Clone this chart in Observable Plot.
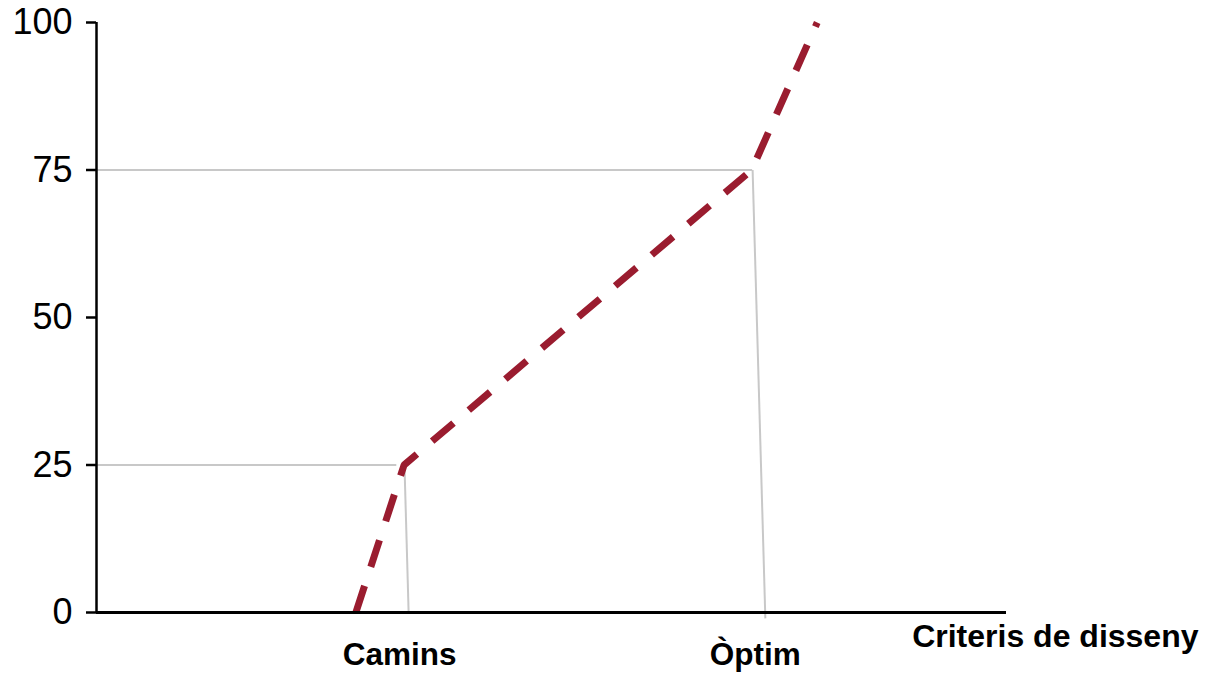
<!DOCTYPE html>
<html>
<head>
<meta charset="utf-8">
<script src="https://cdn.jsdelivr.net/npm/d3@7"></script>
<script src="https://cdn.jsdelivr.net/npm/@observablehq/plot@0.6"></script>
<style>
  html, body { margin: 0; padding: 0; background: #fff; }
  #chart svg { display: block; }
</style>
</head>
<body>
<div id="chart"></div>
<script>
// Dashed curve (x in arbitrary design-criteria units 0–100, y 0–100)
const curveX = [28.5, 33.8, 72.0, 79.2];
const curveY = [0, 25, 75, 100];

// Horizontal gray guides
const guideLevels = [25, 75];
const guideEndX = [33.0, 72.1];

// Vertical (slightly slanted) gray guides
const dropTopX = [33.85, 72.1];
const dropTopY = [24.6, 75];
const dropBottomX = [34.3, 73.5];
const dropBottomY = [0, -1];

// Axis ticks
const yTicks = [0, 25, 50, 75, 100];
const xTickPos = [33.3, 72.4];
const xTickLabels = ["Camins", "Òptim"];
const xAxisTitle = ["Criteris de disseny"];

const curve = curveX.map((x, i) => ({x, y: curveY[i]}));
const guides = guideLevels.map((y, i) => ({y, x2: guideEndX[i]}));
const drops = dropTopX.map((x, i) => ({x1: x, y1: dropTopY[i], x2: dropBottomX[i], y2: dropBottomY[i]}));
const xLabelMap = new Map(xTickPos.map((p, i) => [p, xTickLabels[i]]));

const chart = Plot.plot({
  width: 1205,
  height: 674,
  marginLeft: 96,
  marginRight: 199,
  marginTop: 22,
  marginBottom: 62,
  style: {fontFamily: "'Liberation Sans', Arial, Helvetica, sans-serif", background: "#fff", color: "#000", overflow: "visible"},
  x: {domain: [0, 100]},
  y: {domain: [0, 100]},
  marks: [
    Plot.ruleY(guides, {y: "y", x1: 0, x2: "x2", stroke: "#c8c8c8", strokeWidth: 2}),
    Plot.link(drops, {x1: "x1", y1: "y1", x2: "x2", y2: "y2", stroke: "#c8c8c8", strokeWidth: 2, clip: false}),
    Plot.line(curve, {x: "x", y: "y", stroke: "#9a1c2f", strokeWidth: 7, strokeDasharray: "28,20", strokeLinecap: "butt", strokeLinejoin: "miter", clip: false}),
    Plot.ruleX([0], {y1: 0, y2: 100, stroke: "#000", strokeWidth: 2.5}),
    Plot.ruleY([0], {x1: 0, x2: 100, stroke: "#000", strokeWidth: 3}),
    Plot.axisY({ticks: yTicks, tickSize: 10, tickPadding: 14, fontSize: 36, stroke: "#000", strokeWidth: 2.5, strokeOpacity: 1, label: null, tickFormat: d => String(d)}),
    Plot.axisX({ticks: xTickPos, tickSize: 0, tickPadding: 30, fontSize: 31.5, fontWeight: "bold", label: null, tickFormat: d => xLabelMap.get(d)}),
    Plot.text(xAxisTitle, {frameAnchor: "bottom-right", text: d => d, dx: 192, dy: 12, textAnchor: "end", lineAnchor: "top", fontSize: 32, fontWeight: "bold", fill: "#000"})
  ]
});
document.getElementById("chart").appendChild(chart);
</script>
</body>
</html>
